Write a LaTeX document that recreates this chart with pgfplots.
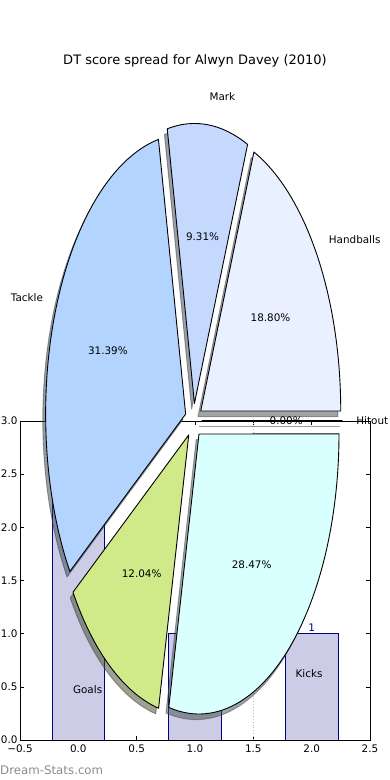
\documentclass[border=0pt]{standalone}
\usepackage{pgfplots}
\pgfplotsset{compat=1.18}
\usepackage{fontspec}
\setmainfont{DejaVu Sans}
\definecolor{navy}{HTML}{000080}
\definecolor{cHit}{HTML}{FFE4B5}
\definecolor{cHB}{HTML}{E9F0FF}
\definecolor{cMark}{HTML}{C5D9FF}
\definecolor{cTackle}{HTML}{B3D4FF}
\definecolor{cGoals}{HTML}{D0EA8A}
\definecolor{cKicks}{HTML}{DAFFFF}
\definecolor{wmgray}{HTML}{8C8C8C}
\newcommand\lbl{\fontsize{10.4}{12}\selectfont}
% pie geometry (pixels, y upward)
\def\pcx{193.6}\def\pcy{359.4}\def\prx{140}\def\pry{280}\def\pexp{0.0615}
\newcommand\pieCalc[2]{%
  \pgfmathsetmacro\pTa{#1*3.6}%
  \pgfmathsetmacro\pTb{(#1+#2)*3.6}%
  \pgfmathsetmacro\pTm{(\pTa+\pTb)/2}%
  \pgfmathsetmacro\pWx{\pcx+\pexp*\prx*cos(\pTm)}%
  \pgfmathsetmacro\pWy{\pcy+\pexp*\pry*sin(\pTm)}%
  \pgfmathsetmacro\pSx{\pWx+\prx*cos(\pTa)}%
  \pgfmathsetmacro\pSy{\pWy+\pry*sin(\pTa)}%
}
\newcommand\pieShadow[3]{%
  \pieCalc{#1}{#2}%
  \pgfmathsetmacro\pWx{\pWx-0.02*\prx}%
  \pgfmathsetmacro\pWy{\pWy-0.02*\pry}%
  \pgfmathsetmacro\pSx{\pSx-0.02*\prx}%
  \pgfmathsetmacro\pSy{\pSy-0.02*\pry}%
  \edef\pieCmd{\noexpand\filldraw[fill=#3!30!black, draw=#3!30!black, opacity=0.5, line width=0.9pt, line join=round] (axis cs:\pWx,\pWy) -- (axis cs:\pSx,\pSy) arc[start angle=\pTa, end angle=\pTb, x radius=\prx, y radius=\pry] -- cycle;}%
  \pieCmd
}
\newcommand\pieWedge[3]{%
  \pieCalc{#1}{#2}%
  \edef\pieCmd{\noexpand\filldraw[fill=#3, draw=black, line width=0.9pt, line join=round] (axis cs:\pWx,\pWy) -- (axis cs:\pSx,\pSy) arc[start angle=\pTa, end angle=\pTb, x radius=\prx, y radius=\pry] -- cycle;}%
  \pieCmd
}
\newcommand\pieLabel[3]{%
  \pieCalc{#1}{#2}%
  \pgfmathsetmacro\pLx{\pWx+1.1*\prx*cos(\pTm)}%
  \pgfmathsetmacro\pLy{\pWy+1.1*\pry*sin(\pTm)}%
  \pgfmathsetmacro\pPx{\pWx+0.6*\prx*cos(\pTm)}%
  \pgfmathsetmacro\pPy{\pWy+0.6*\pry*sin(\pTm)}%
  \pgfmathtruncatemacro\pSide{cos(\pTm)>0}%
  \ifnum\pSide=1 \def\pAnc{west}\else\def\pAnc{east}\fi
  \edef\pieCmd{\noexpand\node[anchor=\pAnc, font=\noexpand\lbl, inner sep=0pt] at (axis cs:\pLx,\pLy) {#3};
    \noexpand\node[font=\noexpand\lbl, inner sep=0pt] at (axis cs:\pPx,\pPy) {#2\noexpand\%};}%
  \pieCmd
}
\begin{document}
\begin{tikzpicture}
\useasboundingbox (0,0) rectangle (390pt,780pt);
\fill[white] (0,0) rectangle (390pt,780pt);
% ---------- bar axes ----------
\begin{axis}[
  at={(20pt,40pt)}, anchor=south west,
  width=350pt, height=319pt, scale only axis,
  xmin=-0.5, xmax=2.5, ymin=0, ymax=3,
  xtick={-0.5,0,0.5,1,1.5,2,2.5},
  xticklabels={−0.5,0.0,0.5,1.0,1.5,2.0,2.5},
  ytick={0,0.5,1,1.5,2,2.5,3},
  yticklabels={0.0,0.5,1.0,1.5,2.0,2.5,3.0},
  tick align=inside, major tick length=4pt,
  tick style={black, line width=0.6pt},
  ticklabel style={font=\lbl},
  yticklabel style={xshift=1pt},
  xticklabel style={yshift=-1.5pt},
  axis line style={line width=0.8pt},
  /pgf/number format/assume math mode=true,
]
\addplot[gray!50, dotted, line width=0.9pt, sharp plot, no markers] coordinates {(1.5,0) (1.5,3)};
\addplot[ybar, bar width=0.45, fill=navy!20, draw=navy, line width=0.8pt,
  nodes near coords, nodes near coords style={font=\lbl, text=navy, inner sep=1.5pt, anchor=south}]
  coordinates {(0,3) (1,1) (2,1)};
\end{axis}
% ---------- pie axes ----------
\begin{axis}[
  at={(0pt,0pt)}, anchor=south west,
  width=390pt, height=780pt, scale only axis,
  xmin=0, xmax=390, ymin=0, ymax=780,
  hide axis, clip=false,
]
% start%, share%, colour
\pieShadow{0.00}{0.00}{cHit}
\pieShadow{0.00}{18.80}{cHB}
\pieShadow{18.80}{9.31}{cMark}
\pieShadow{28.11}{31.39}{cTackle}
\pieShadow{59.50}{12.04}{cGoals}
\pieShadow{71.54}{28.47}{cKicks}
\pieWedge{0.00}{0.00}{cHit}
\pieWedge{0.00}{18.80}{cHB}
\pieWedge{18.80}{9.31}{cMark}
\pieWedge{28.11}{31.39}{cTackle}
\pieWedge{59.50}{12.04}{cGoals}
\pieWedge{71.54}{28.47}{cKicks}
\pieLabel{0.00}{0.00}{Hitout}
\pieLabel{0.00}{18.80}{Handballs}
\pieLabel{18.80}{9.31}{Mark}
\pieLabel{28.11}{31.39}{Tackle}
\pieLabel{59.50}{12.04}{Goals}
\pieLabel{71.54}{28.47}{Kicks}
\node[font=\fontsize{13}{15}\selectfont, inner sep=0pt] at (axis cs:195,719) {DT score spread for Alwyn Davey (2010)};
\node[font=\fontsize{11.8}{14}\selectfont, text=wmgray, anchor=west, inner sep=0pt] at (axis cs:0,10) {Dream-Stats.com};
\end{axis}
\end{tikzpicture}
\end{document}
